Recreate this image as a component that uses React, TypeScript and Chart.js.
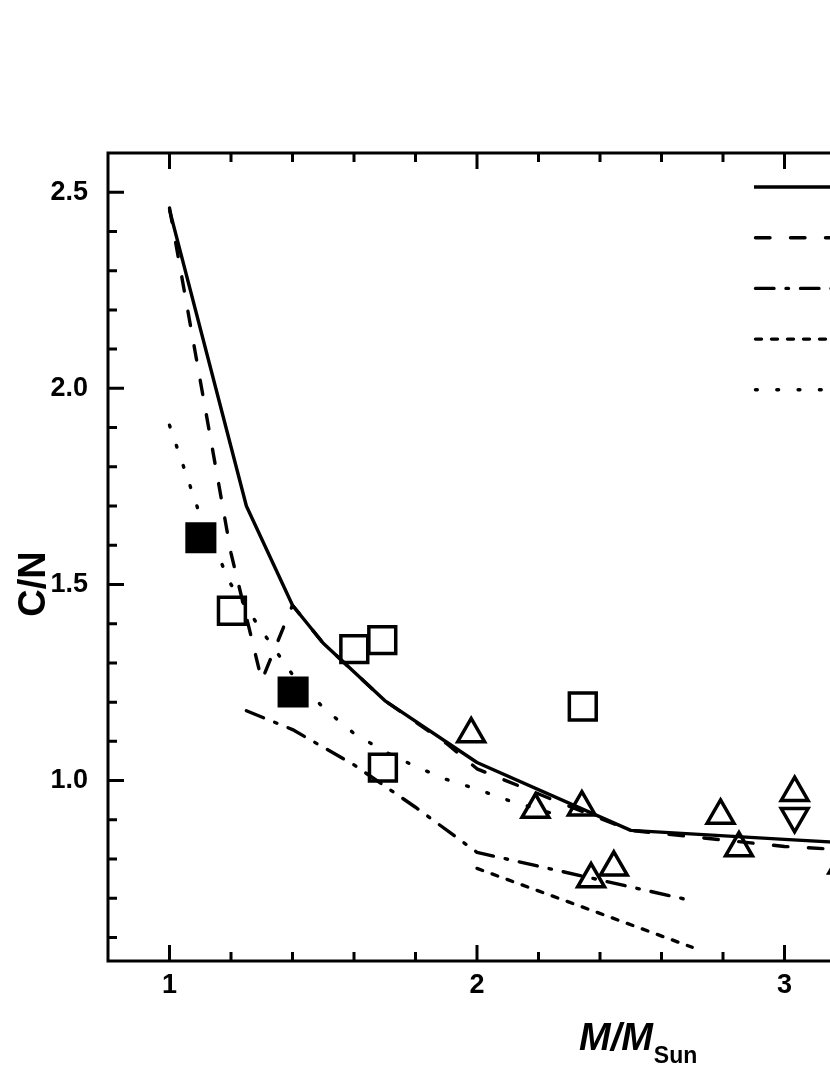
import React, { useEffect, useRef } from "react";
import { Chart, registerables } from "chart.js";

Chart.register(...registerables);

// ---- data ----
const solidX = [1.0, 1.25, 1.4, 1.5, 1.7, 2.0, 2.5, 3.0, 3.5];
const solidY = [2.455, 1.7, 1.447, 1.35, 1.204, 1.046, 0.873, 0.85, 0.828];

const dashedX = [1.0, 1.2, 1.3, 1.4, 1.5, 1.7, 1.9, 2.0, 2.25, 2.5, 3.0, 3.5];
const dashedY = [2.46, 1.58, 1.255, 1.447, 1.35, 1.204, 1.095, 1.03, 0.95, 0.873, 0.832, 0.81];

const dashDotX = [1.25, 1.4, 1.6, 1.8, 2.0, 2.68];
const dashDotY = [1.178, 1.13, 1.04, 0.932, 0.817, 0.697];

const shortDashX = [2.0, 2.7];
const shortDashY = [0.776, 0.575];

const dottedX = [1.0, 1.1, 1.2, 1.3, 1.4, 1.5, 1.6, 1.7, 1.8, 1.9, 2.0, 2.1, 2.25];
const dottedY = [1.906, 1.675, 1.5, 1.382, 1.27, 1.186, 1.12, 1.074, 1.036, 1.003, 0.978, 0.95, 0.915];

const filledSquareX = [1.102, 1.402];
const filledSquareY = [1.619, 1.226];

const openSquareX = [1.203, 1.601, 1.692, 1.694, 2.344];
const openSquareY = [1.433, 1.335, 1.358, 1.033, 1.189];

const upTriangleX = [1.981, 2.19, 2.341, 2.371, 2.445, 2.792, 2.852, 3.033, 3.188];
const upTriangleY = [1.119, 0.926, 0.932, 0.749, 0.779, 0.911, 0.828, 0.969, 0.784];

const downTriangleX = [3.033];
const downTriangleY = [0.909];

const seriesNames = ["Model 1", "Model 2", "Model 3", "Model 4", "Model 5"];

const xTickValues = [1, 2, 3];
const xTickLabels = ["1", "2", "3"];
const yTickValues = [1.0, 1.5, 2.0, 2.5];
const yTickLabels = ["1.0", "1.5", "2.0", "2.5"];

const X_MIN = 0.8;
const X_MAX = 3.6;
const Y_MIN = 0.54;
const Y_MAX = 2.6;

const FONT = "'Liberation Sans', Arial, sans-serif";

const LW = 3.4;
const DASH_SOLID: number[] = [];
const DASH_DASHED = [14.5, 20.5];
const DASH_DASHDOT = [18.5, 12, 2.5, 12];
const DASH_SHORT = [6, 10];
const DASH_DOTTED = [1.8, 19.5];
const lineDashes = [DASH_SOLID, DASH_DASHED, DASH_DASHDOT, DASH_SHORT, DASH_DOTTED];

function pts(xs: number[], ys: number[]) {
  return xs.map((x, i) => ({ x, y: ys[i] }));
}

export default function App() {
  const ref = useRef<HTMLCanvasElement | null>(null);

  useEffect(() => {
    const canvas = ref.current;
    if (!canvas) return;

    const decor = {
      id: "decor",
      afterDraw(chart: any) {
        const { ctx, chartArea: a, scales } = chart;
        const xs = scales.x;
        const ys = scales.y;
        ctx.save();
        ctx.strokeStyle = "#000";
        ctx.fillStyle = "#000";
        ctx.lineWidth = 3;
        ctx.setLineDash([]);
        ctx.lineCap = "butt";
        ctx.beginPath();
        for (let k = 4; k <= Math.round(X_MAX * 5); k++) {
          const v = k / 5;
          if (v <= X_MIN + 1e-9 || v >= X_MAX - 1e-9) continue;
          const len = k % 5 === 0 ? 16 : 9;
          const px = xs.getPixelForValue(v);
          ctx.moveTo(px, a.bottom);
          ctx.lineTo(px, a.bottom - len);
          ctx.moveTo(px, a.top);
          ctx.lineTo(px, a.top + len);
        }
        for (let k = 5; k <= 26; k++) {
          const v = k / 10;
          if (v <= Y_MIN + 1e-9 || v >= Y_MAX - 1e-9) continue;
          const len = k % 5 === 0 ? 16 : 9;
          const py = ys.getPixelForValue(v);
          ctx.moveTo(a.left, py);
          ctx.lineTo(a.left + len, py);
          ctx.moveTo(a.right, py);
          ctx.lineTo(a.right - len, py);
        }
        ctx.stroke();
        ctx.strokeRect(a.left, a.top, a.right - a.left, a.bottom - a.top);

        // legend samples (labels lie beyond the visible area, as in the reference)
        const lx0 = 754;
        const lx1 = 872;
        ctx.lineWidth = LW;
        for (let i = 0; i < seriesNames.length; i++) {
          const y = 187 + i * 50.7;
          ctx.beginPath();
          ctx.setLineDash(lineDashes[i]);
          ctx.lineCap = i === 0 ? "butt" : "round";
          ctx.moveTo(lx0 + (i === 0 ? 0 : 1.5), y);
          ctx.lineTo(lx1, y);
          ctx.stroke();
          ctx.setLineDash([]);
          ctx.font = `bold 27px ${FONT}`;
          ctx.textAlign = "left";
          ctx.textBaseline = "middle";
          ctx.fillText(seriesNames[i], lx1 + 12, y);
        }

        // y title
        ctx.save();
        ctx.translate(35, 584);
        ctx.rotate(-Math.PI / 2);
        ctx.font = `bold 38px ${FONT}`;
        ctx.textAlign = "center";
        ctx.textBaseline = "middle";
        ctx.fillText("C/N", 0, 0);
        ctx.restore();

        // x title M/M_Sun
        ctx.textAlign = "left";
        ctx.textBaseline = "alphabetic";
        ctx.font = `italic bold 38px ${FONT}`;
        const tx = 579;
        ctx.fillText("M/M", tx, 1050);
        const w = ctx.measureText("M/M").width;
        ctx.font = `bold 23px ${FONT}`;
        ctx.fillText("Sun", tx + w + 1, 1063);
        ctx.restore();
      },
    };

    const lineBase = {
      type: "scatter" as const,
      showLine: true,
      pointRadius: 0,
      borderColor: "#000",
      backgroundColor: "#000",
      borderWidth: LW,
      borderJoinStyle: "round" as const,
      tension: 0,
    };

    const chart = new Chart(canvas, {
      type: "scatter",
      data: {
        datasets: [
          {
            label: "filled squares",
            data: pts(filledSquareX, filledSquareY),
            pointStyle: "rect",
            pointRadius: 19.5,
            borderWidth: 3.5,
            borderColor: "#000",
            backgroundColor: "#000",
            order: 0,
          } as any,
          {
            label: "open squares",
            data: pts(openSquareX, openSquareY),
            pointStyle: "rect",
            pointRadius: 19,
            borderWidth: 3.5,
            borderColor: "#000",
            backgroundColor: "rgba(0,0,0,0)",
            order: 0,
          },
          {
            label: "triangles",
            data: pts(upTriangleX, upTriangleY),
            pointStyle: "triangle",
            pointRadius: 15.5,
            borderWidth: 3.5,
            borderColor: "#000",
            backgroundColor: "rgba(0,0,0,0)",
            order: 0,
          },
          {
            label: "down triangles",
            data: pts(downTriangleX, downTriangleY),
            pointStyle: "triangle",
            rotation: 180,
            pointRadius: 15.5,
            borderWidth: 3.5,
            borderColor: "#000",
            backgroundColor: "rgba(0,0,0,0)",
            order: 0,
          },
          { ...lineBase, label: seriesNames[0], data: pts(solidX, solidY), borderDash: DASH_SOLID, borderCapStyle: "butt", order: 1 },
          { ...lineBase, label: seriesNames[1], data: pts(dashedX, dashedY), borderDash: DASH_DASHED, borderCapStyle: "round", order: 1 },
          { ...lineBase, label: seriesNames[2], data: pts(dashDotX, dashDotY), borderDash: DASH_DASHDOT, borderCapStyle: "round", order: 1 },
          { ...lineBase, label: seriesNames[3], data: pts(shortDashX, shortDashY), borderDash: DASH_SHORT, borderCapStyle: "round", order: 1 },
          { ...lineBase, label: seriesNames[4], data: pts(dottedX, dottedY), borderDash: DASH_DOTTED, borderCapStyle: "round", order: 1 },
        ] as any,
      },
      options: {
        responsive: false,
        animation: false,
        devicePixelRatio: 1,
        events: [],
        layout: { padding: { top: 153, right: 31, left: 0, bottom: 0 } },
        plugins: {
          legend: { display: false },
          tooltip: { enabled: false },
          title: { display: false },
        },
        scales: {
          x: {
            type: "linear",
            min: X_MIN,
            max: X_MAX,
            afterBuildTicks: (s: any) => {
              s.ticks = xTickValues.map((v) => ({ value: v }));
            },
            afterFit: (s: any) => {
              s.height = 114;
            },
            ticks: {
              color: "#000",
              font: { family: FONT, size: 27, weight: "bold" },
              padding: 8,
              maxRotation: 0,
              autoSkip: false,
              callback: (v: any) => {
                const i = xTickValues.indexOf(Number(v));
                return i >= 0 ? xTickLabels[i] : "";
              },
            },
            grid: { display: false, drawTicks: false },
            border: { display: false },
          },
          y: {
            type: "linear",
            min: Y_MIN,
            max: Y_MAX,
            afterBuildTicks: (s: any) => {
              s.ticks = yTickValues.map((v) => ({ value: v }));
            },
            afterFit: (s: any) => {
              s.width = 108;
            },
            ticks: {
              color: "#000",
              font: { family: FONT, size: 27, weight: "bold" },
              padding: 20,
              autoSkip: false,
              callback: (v: any) => {
                const i = yTickValues.findIndex((t) => Math.abs(t - Number(v)) < 1e-9);
                return i >= 0 ? yTickLabels[i] : "";
              },
            },
            grid: { display: false, drawTicks: false },
            border: { display: false },
          },
        },
      } as any,
      plugins: [decor],
    });

    return () => {
      chart.destroy();
    };
  }, []);

  return (
    <div
      style={{
        position: "fixed",
        left: 0,
        top: 0,
        width: 830,
        height: 1075,
        overflow: "hidden",
        background: "#fff",
      }}
    >
      <canvas ref={ref} width={1000} height={1075} style={{ display: "block", width: 1000, height: 1075 }} />
    </div>
  );
}
